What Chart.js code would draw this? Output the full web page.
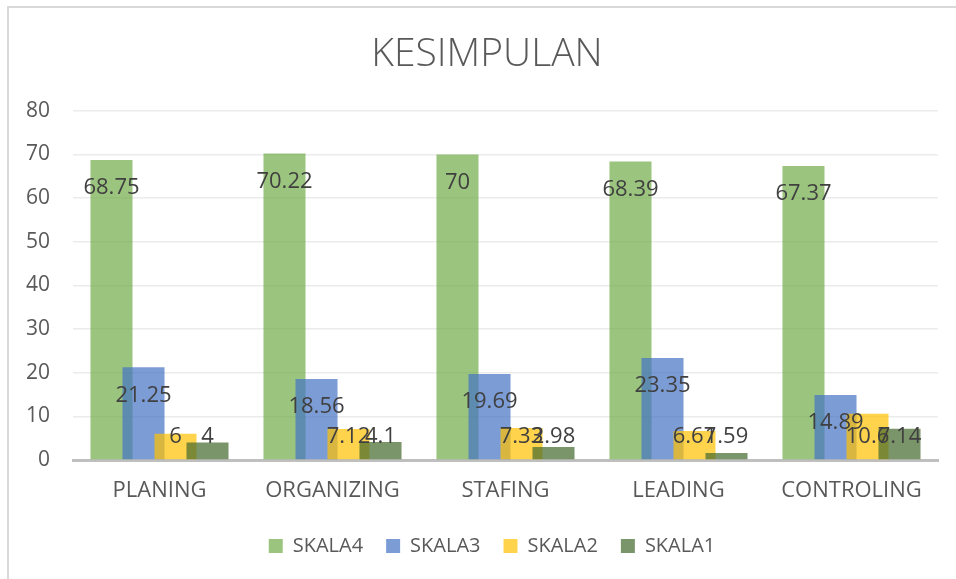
<!DOCTYPE html>
<html>
<head>
<meta charset="utf-8">
<script src="https://cdn.jsdelivr.net/npm/chart.js@4.4.1/dist/chart.umd.min.js"></script>
<style>
    body { margin: 0; background: #ffffff; }
    #wadah { position: relative; width: 956px; height: 579px; overflow: hidden; }
    #bingkai { position: absolute; left: 7px; top: 6px; width: 980px; height: 600px; border: 2px solid #d9d9d9; }
    #grafik { position: absolute; left: 0; top: 0; }
</style>
</head>
<body>
<div id="wadah">
    <div id="bingkai"></div>
    <canvas id="grafik" width="956" height="579"></canvas>
</div>
<script>
// data dari grafik KESIMPULAN
const kategori = ["PLANING", "ORGANIZING", "STAFING", "LEADING", "CONTROLING"];
const namaSeri = ["SKALA4", "SKALA3", "SKALA2", "SKALA1"];
const skala4 = [68.75, 70.22, 70, 68.39, 67.37];
const skala3 = [21.25, 18.56, 19.69, 23.35, 14.89];
const skala2 = [6, 7.12, 7.33, 6.67, 10.6];
const skala1 = [4, 4.1, 2.98, 1.59, 7.14];
const sumbuY = { min: 0, max: 80, langkah: 10 };

const warna = [
    "rgba(112, 173, 71, 0.7)",
    "rgba(68, 114, 196, 0.7)",
    "rgba(255, 192, 0, 0.7)",
    "rgba(67, 104, 43, 0.7)",
];

const hurufDasar = "'Open Sans', 'Noto Sans', sans-serif";

// batang saling tumpang tindih seperti di Excel
const geserBatang = {
    id: "geserBatang",
    afterLayout(chart) {
        // judul dan legenda sedikit ke kanan, seperti aslinya
        chart.titleBlock.left += 18;
        chart.titleBlock.right += 18;
        chart.legend.left += 23;
        chart.legend.right += 23;
    },
    afterDatasetsUpdate(chart) {
        const xs = chart.scales.x;
        const lebarKat = xs.width / kategori.length;
        chart.data.datasets.forEach(function (ds, i) {
            const meta = chart.getDatasetMeta(i);
            meta.data.forEach(function (bar, j) {
                bar.x = xs.getPixelForValue(j) + (i - 1.5) * 0.185 * lebarKat;
                bar.width = 0.243 * lebarKat;
            });
        });
    },
};

// label nilai di dalam ujung batang
const labelNilai = {
    id: "labelNilai",
    afterDatasetsDraw(chart) {
        const ctx = chart.ctx;
        const nol = chart.scales.y.getPixelForValue(0);
        ctx.save();
        ctx.font = "22px " + hurufDasar;
        ctx.fillStyle = "#404040";
        ctx.textAlign = "center";
        ctx.textBaseline = "middle";
        chart.data.datasets.forEach(function (ds, i) {
            const meta = chart.getDatasetMeta(i);
            meta.data.forEach(function (bar, j) {
                const y = Math.min(bar.y + 28, nol - 23);
                ctx.fillText(String(ds.data[j]), bar.x, y);
            });
        });
        ctx.restore();
    },
};

new Chart(document.getElementById("grafik"), {
    type: "bar",
    data: {
        labels: kategori,
        datasets: [skala4, skala3, skala2, skala1].map(function (nilai, i) {
            return {
                label: namaSeri[i],
                data: nilai,
                backgroundColor: warna[i],
                borderWidth: 0,
                order: 3 - i, // seri berikutnya digambar di atas
            };
        }),
    },
    options: {
        responsive: false,
        animation: false,
        events: [],
        layout: { padding: { left: 0, right: 18, top: 0, bottom: 13 } },
        scales: {
            x: {
                grid: { display: false, drawTicks: false },
                border: { display: true, color: "#bfbfbf", width: 3 },
                ticks: {
                    color: "#595959",
                    font: { family: hurufDasar, size: 22 },
                    padding: 18,
                    maxRotation: 0,
                },
                afterFit(scale) { scale.height = 53; },
            },
            y: {
                min: sumbuY.min,
                max: sumbuY.max,
                grid: { color: "#ebebeb", lineWidth: 1.5, drawTicks: false },
                border: { display: false },
                ticks: {
                    stepSize: sumbuY.langkah,
                    color: "#595959",
                    font: { family: hurufDasar, size: 21 },
                    padding: 23,
                },
                afterFit(scale) { scale.width = 73; },
            },
        },
        plugins: {
            title: {
                display: true,
                text: "KESIMPULAN",
                color: "#595959",
                font: { family: hurufDasar, size: 39, weight: "300" },
                padding: { top: 31, bottom: 33 },
            },
            legend: {
                position: "bottom",
                labels: {
                    boxWidth: 14,
                    boxHeight: 14,
                    padding: 23,
                    color: "#595959",
                    font: { family: hurufDasar, size: 20 },
                    sort: function (a, b) { return a.datasetIndex - b.datasetIndex; },
                },
            },
            tooltip: { enabled: false },
        },
    },
    plugins: [geserBatang, labelNilai],
});
</script>
</body>
</html>
